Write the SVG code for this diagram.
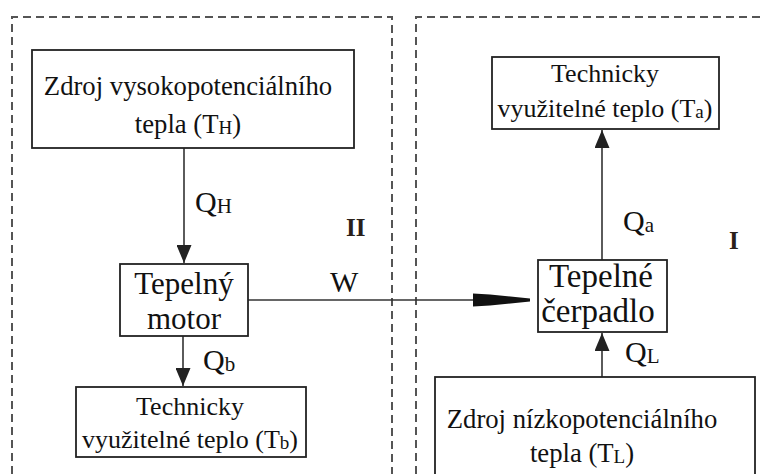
<svg xmlns="http://www.w3.org/2000/svg" width="763" height="474" viewBox="0 0 763 474">
<defs>
<style>
.box{fill:#fff;stroke:#222;stroke-width:1.8}
.dash{fill:none;stroke:#555;stroke-width:2;stroke-dasharray:8 5}
.con{fill:none;stroke:#333;stroke-width:1.6}
text{font-family:'Liberation Serif','DejaVu Serif',serif;fill:#111}
.t26{font-size:26px;text-anchor:middle}
.t27{font-size:26.7px;text-anchor:middle}
.t31{font-size:31px;text-anchor:middle}
.t33{font-size:33px;text-anchor:middle}
.lab{font-size:30px}
.sub{font-size:19px}
.subL{font-size:21px}
.rom{font-size:25px;font-weight:bold;fill:#2a1f1a}
</style>
<marker id="ah" viewBox="0 0 18 15" refX="18" refY="7.5" markerWidth="18" markerHeight="15" markerUnits="userSpaceOnUse" orient="auto">
<path d="M0,0 L18,7.5 L0,15 z" fill="#222"/>
</marker>
</defs>
<rect width="763" height="474" fill="#fff"/>

<g id="regions">
<path class="dash" d="M12,474 L12,17 L392,17 L392,474"/>
<path class="dash" d="M416,474 L416,17 L763,17"/>
<text class="rom" x="346" y="236">II</text>
<text class="rom" x="729" y="249">I</text>
</g>

<g id="connectors">
<line class="con" x1="184" y1="148" x2="184" y2="263" marker-end="url(#ah)"/>
<line class="con" x1="183" y1="336" x2="183" y2="386" marker-end="url(#ah)"/>
<line class="con" x1="602" y1="260" x2="602" y2="130" marker-end="url(#ah)"/>
<line class="con" x1="602" y1="377" x2="602" y2="333" marker-end="url(#ah)"/>
<line class="con" x1="248" y1="300" x2="528" y2="300"/>
<polygon points="473,293.5 490,294.5 530,298.5 530,301.5 490,305.5 473,306.5" fill="#111"/>
<text class="lab" x="195" y="212">Q<tspan class="subL" dy="1">H</tspan></text>
<text class="lab" x="203" y="370">Q<tspan class="subL" dy="1">b</tspan></text>
<text class="lab" x="623" y="231">Q<tspan class="subL" dy="1">a</tspan></text>
<text class="lab" x="625" y="362">Q<tspan class="subL" dy="1">L</tspan></text>
<text class="lab" x="330" y="292">W</text>
</g>

<g id="zdroj-vysoko">
<rect class="box" x="32" y="50" width="322" height="98"/>
<text class="t27" x="188" y="95">Zdroj vysokopotenciálního</text>
<text class="t27" x="188" y="133">tepla (T<tspan class="sub" dy="1">H</tspan><tspan dy="-1">)</tspan></text>
</g>

<g id="tepelny-motor">
<rect class="box" x="120" y="264" width="128" height="72"/>
<text class="t31" x="184" y="294">Tepelný</text>
<text class="t31" x="184" y="329">motor</text>
</g>

<g id="teplo-b">
<rect class="box" x="76" y="387" width="230" height="70"/>
<text class="t26" x="190" y="415">Technicky</text>
<text class="t26" x="190" y="448">využitelné teplo (T<tspan class="sub" dy="1">b</tspan><tspan dy="-1">)</tspan></text>
</g>

<g id="teplo-a">
<rect class="box" x="492" y="57" width="227" height="72"/>
<text class="t26" x="605" y="82">Technicky</text>
<text class="t26" x="605" y="117">využitelné teplo (T<tspan class="sub" dy="1">a</tspan><tspan dy="-1">)</tspan></text>
</g>

<g id="tepelne-cerpadlo">
<rect class="box" x="538" y="260" width="129" height="72"/>
<text class="t33" x="601" y="287">Tepelné</text>
<text class="t33" x="598" y="322">čerpadlo</text>
</g>

<g id="zdroj-nizko">
<rect class="box" x="435" y="377" width="320" height="110"/>
<text class="t27" x="582" y="428">Zdroj nízkopotenciálního</text>
<text class="t27" x="582" y="462">tepla (T<tspan class="sub" dy="1">L</tspan><tspan dy="-1">)</tspan></text>
</g>
</svg>
